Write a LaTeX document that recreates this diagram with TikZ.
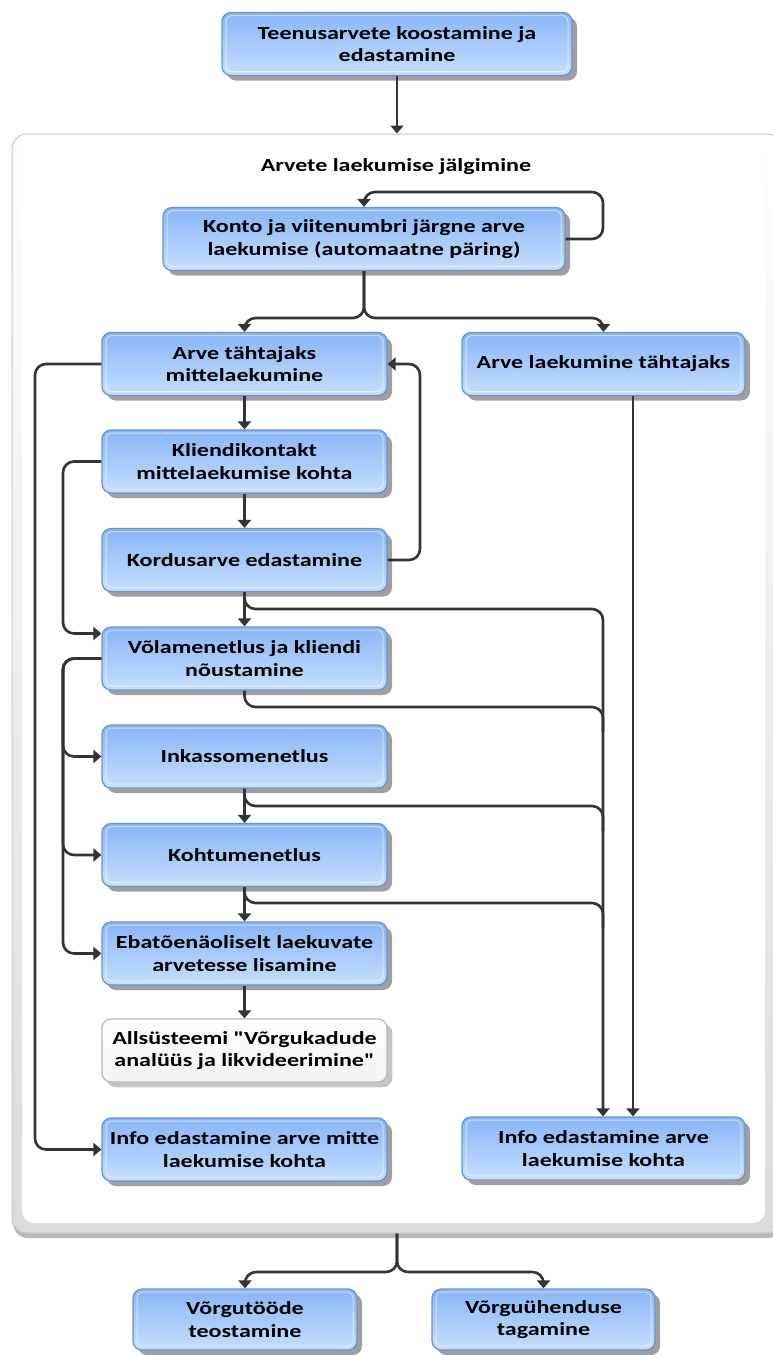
\documentclass[tikz,border=0pt]{standalone}
\usepackage{fontspec}
\setmainfont{Carlito}[Ligatures=TeXOff,FakeStretch=1.3]
\usetikzlibrary{shadows,arrows.meta}
\definecolor{boxtop}{RGB}{136,181,247}
\definecolor{boxbot}{RGB}{198,223,255}
\definecolor{boxedge}{RGB}{104,146,212}
\definecolor{linecol}{RGB}{52,52,52}
\definecolor{framegray}{RGB}{200,200,200}
\begin{document}
\begin{tikzpicture}[x=1pt,y=-1pt,
  label font/.style={font=\bfseries\fontsize{18.5}{22.5}\selectfont},
  stepbox/.style={rectangle, rounded corners=9pt, draw=boxedge, line width=1.2pt,
    top color=boxtop, bottom color=boxbot, minimum height=63pt, inner sep=0pt,
    align=center, label font,
    drop shadow={shadow xshift=5pt, shadow yshift=-5pt, fill=gray!75, opacity=1},
    path picture={\draw[white, opacity=.55, line width=1pt, rounded corners=6pt]
      ([shift={(4pt,-3pt)}]path picture bounding box.north west) rectangle
      ([shift={(-4pt,4pt)}]path picture bounding box.south east);}},
  leftbox/.style={stepbox, minimum width=285pt},
  rightbox/.style={stepbox, minimum width=283pt},
  plainbox/.style={stepbox, draw=gray!55, top color=white, bottom color=gray!10,
    drop shadow={shadow xshift=5pt, shadow yshift=-5pt, fill=gray!45, opacity=1}},
  conn/.style={draw=linecol, line width=2.6pt, rounded corners=11pt},
  arr/.style={conn, -{Triangle[width=13pt,length=8pt]}}
]
\useasboundingbox (0,0) rectangle (773,1355);
\clip (0,0) rectangle (773,1355);

% outer frame of the monitoring block
\node[rectangle, rounded corners=15pt, draw=framegray, line width=1pt,
      top color=white, bottom color=gray!28, minimum width=770pt, minimum height=1099pt,
      inner sep=0pt,
      drop shadow={shadow xshift=1pt, shadow yshift=-5pt, fill=gray!55, opacity=1}]
      (panel) at (397,683.5) {};
\node[rectangle, rounded corners=12pt, fill=white, minimum width=743pt,
      minimum height=1083pt, inner sep=0pt] (panelin) at (393.5,681.5) {};

\node[label font] (title) at (396,167) {Arvete laekumise jälgimine};

% process steps
\node[stepbox, minimum width=350pt] (top) at (397,44) {Teenusarvete koostamine ja\\edastamine};
\node[stepbox, minimum width=402pt] (konto) at (364,239) {Konto ja viitenumbri järgne arve\\laekumise (automaatne päring)};

\node[leftbox] (n1) at (244.5,364) {Arve tähtajaks\\mittelaekumine};
\node[rightbox] (r1) at (603.5,364) {Arve laekumine tähtajaks};
\node[leftbox] (n2) at (244.5,461.5) {Kliendikontakt\\mittelaekumise kohta};
\node[leftbox] (n3) at (244.5,560) {Kordusarve edastamine};
\node[leftbox] (n4) at (244.5,658.5) {Võlamenetlus ja kliendi\\nõustamine};
\node[leftbox] (n5) at (244.5,756.5) {Inkassomenetlus};
\node[leftbox] (n6) at (244.5,855) {Kohtumenetlus};
\node[leftbox] (n7) at (244.5,953.5) {Ebatõenäoliselt laekuvate\\arvetesse lisamine};
\node[plainbox, minimum width=285pt] (n8) at (244.5,1050.5) {Allsüsteemi "Võrgukadude\\analüüs ja likvideerimine"};
\node[leftbox] (n9) at (244.5,1149.5) {Info edastamine arve mitte\\laekumise kohta};
\node[rightbox] (r2) at (603.5,1148.5) {Info edastamine arve\\laekumise kohta};

\node[stepbox, minimum width=224pt, minimum height=61pt] (b1) at (245,1319.5) {Võrgutööde\\teostamine};
\node[stepbox, minimum width=223pt, minimum height=61pt] (b2) at (543.5,1319.5) {Võrguühenduse\\tagamine};

% routing points
\coordinate (kSplit) at (364,318);
\coordinate (kLoop) at (603,192);
\coordinate (rBus) at (603,0);
\coordinate (rDirect) at (633,0);
\coordinate (leftA) at (35,0);
\coordinate (leftB) at (63,0);
\coordinate (backX) at (420,0);
\coordinate (pSplit) at (397,1272);
\coordinate (n4in) at ([yshift=25pt]n4.west);
\coordinate (b3) at (0,609);
\coordinate (b4) at (0,707);
\coordinate (b5) at (0,806);
\coordinate (b6) at (0,903);

% connectors
\draw[arr] (top.south) -- (panel.north);
\draw[arr] (konto.east) -| (kLoop) -| (konto.north);
\draw[arr] (konto.south) -- (kSplit) -| (n1.north);
\draw[arr] (konto.south) -- (kSplit) -| (r1.north);

\draw[arr] (n1.south) -- (n2.north);
\draw[arr] (n2.south) -- (n3.north);
\draw[arr] (n3.south) -- (n4.north);
\draw[arr] (n5.south) -- (n6.north);
\draw[arr] (n6.south) -- (n7.north);
\draw[arr] (n7.south) -- (n8.north);

\draw[arr] (n3.east) -| (backX |- n1.east) -- (n1.east);

\draw[arr] (n1.west) -| (leftA |- n9.west) -- (n9.west);
\draw[arr] (n2.west) -| (leftB |- n4in) -- (n4in);
\draw[arr] (n4.west) -| (leftB |- n5.west) -- (n5.west);
\draw[arr] (n4.west) -| (leftB |- n6.west) -- (n6.west);
\draw[arr] (n4.west) -| (leftB |- n7.west) -- (n7.west);

\draw[arr] (n3.south) |- (rBus |- b3) -- (rBus |- r2.north);
\draw[conn] (n4.south) |- (rBus |- b4) -- ++(0,25);
\draw[conn] (n5.south) |- (rBus |- b5) -- ++(0,25);
\draw[conn] (n6.south) |- (rBus |- b6) -- ++(0,25);
\draw[arr] (r1.south -| rDirect) -- (r2.north -| rDirect);

\draw[arr] (panel.south) -- (pSplit) -| (b1.north);
\draw[arr] (panel.south) -- (pSplit) -| (b2.north);
\end{tikzpicture}
\end{document}
